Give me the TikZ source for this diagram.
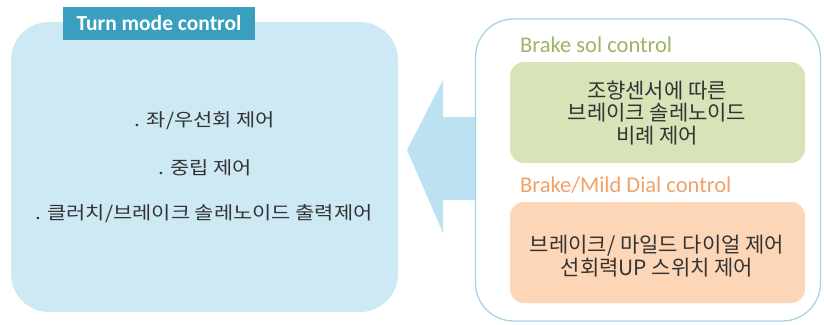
\documentclass[tikz,border=0pt]{standalone}
\usepackage{fontspec}
\setmainfont{Carlito}
\newfontfamily\kr{Noto Sans CJK KR}
\newfontfamily\krwide[FakeStretch=1.16]{Noto Sans CJK KR}
\definecolor{leftfill}{HTML}{CDE9F3}
\definecolor{tabfill}{HTML}{3A9EBE}
\definecolor{rborder}{HTML}{A6D3E6}
\definecolor{arrowfill}{HTML}{BCE1F0}
\definecolor{greenfill}{HTML}{D6E4B8}
\definecolor{greentxt}{HTML}{9CB565}
\definecolor{orangefill}{HTML}{FCD6B6}
\definecolor{orangetxt}{HTML}{F2A266}
\definecolor{txt}{HTML}{333333}
\tikzset{
  krtext/.style={font=\kr\fontsize{21}{22.5}\selectfont, text=txt, align=center},
  krleft/.style={font=\krwide\fontsize{18}{22}\selectfont, text=txt, align=center},
  sublabel/.style={font=\fontsize{22.5}{24}\selectfont, anchor=west, inner sep=0pt},
  innerbox/.style={rounded corners=14pt, draw=none},
}
\begin{document}
\begin{tikzpicture}[x=1pt,y=-1pt]
\useasboundingbox (0,0) rectangle (824,324);
% arrow
\fill[arrowfill] (407,150) -- (443,80) -- (443,117) -- (490,117) -- (490,200) -- (443,200) -- (443,233) -- cycle;
\coordinate (arrowtip) at (407,150);
% left box
\node[draw=none, fill=leftfill, rounded corners=38pt, minimum width=387pt, minimum height=290pt, inner sep=0pt] (left) at (204.5,167) {};
\node[fill=tabfill, minimum width=192pt, minimum height=33pt, inner sep=0pt, text=white, font=\bfseries\fontsize{21.5}{22}\selectfont] (tab) at (159,23.5) {Turn mode control};
\node[krleft] (l1) at (205,121) {. 좌/우선회 제어};
\node[krleft] (l2) at (205,168) {. 중립 제어};
\node[krleft] (l3) at (204,214) {. 클러치/브레이크 솔레노이드 출력제어};
% right box
\node[draw=rborder, line width=1.3pt, fill=white, rounded corners=38pt, minimum width=345pt, minimum height=302pt, inner sep=0pt] (right) at (648,170) {};
% green
\node[sublabel, text=greentxt] (glabel) at (520,45) {Brake sol control};
\node[innerbox, fill=greenfill, minimum width=295pt, minimum height=101pt] (green) at (657.5,112.5) {};
\node[krtext] (gtext) at (657,113) {조향센서에 따른\\브레이크 솔레노이드\\비례 제어};
% orange
\node[sublabel, text=orangetxt] (olabel) at (520,185) {Brake/Mild Dial control};
\node[innerbox, fill=orangefill, minimum width=295pt, minimum height=101pt] (orange) at (657.5,252.5) {};
\node[krtext] (otext) at (657,256) {브레이크/ 마일드 다이얼 제어\\선회력UP 스위치 제어};
\end{tikzpicture}
\end{document}
